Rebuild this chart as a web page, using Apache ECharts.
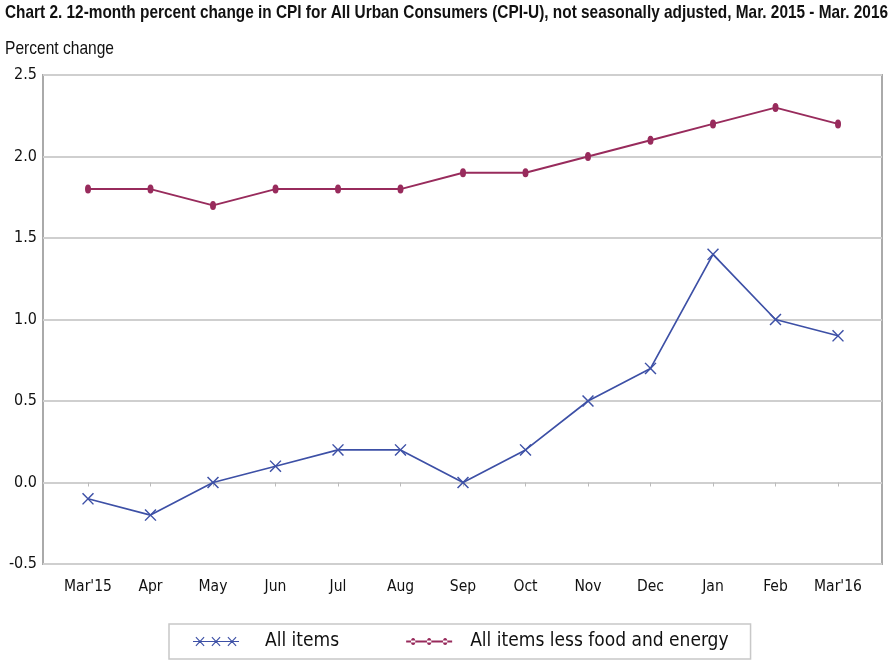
<!DOCTYPE html>
<html>
<head>
<meta charset="utf-8">
<script src="https://cdn.jsdelivr.net/npm/echarts@6/dist/echarts.min.js"></script>
<style>
html,body{margin:0;padding:0;background:#fff;}
#chart{width:892px;height:669px;}
</style>
</head>
<body>
<div id="chart"></div>
<script>
const categories = ["Mar'15","Apr","May","Jun","Jul","Aug","Sep","Oct","Nov","Dec","Jan","Feb","Mar'16"];
const allItems = [-0.1,-0.2,0.0,0.1,0.2,0.2,0.0,0.2,0.5,0.7,1.4,1.0,0.9];
const coreItems = [1.8,1.8,1.7,1.8,1.8,1.8,1.9,1.9,2.0,2.1,2.2,2.3,2.2];
const yTicks = {min:-0.5, max:2.5, interval:0.5};
const titleText = 'Chart 2. 12-month percent change in CPI for All Urban Consumers (CPI-U), not seasonally adjusted, Mar. 2015 - Mar. 2016';
const yName = 'Percent change';

const BLUE = '#3d50a6';
const MAROON = '#982b5c';
const FONT = "'DejaVu Sans Condensed','Liberation Sans',sans-serif";

function textWidth(t, font){
  const c = document.createElement('canvas').getContext('2d');
  c.font = font;
  return c.measureText(t).width;
}
const titleScale = 883 / textWidth(titleText, "bold 19px 'Liberation Sans'");
const nameScale = 109 / textWidth(yName, "19px 'Liberation Sans'");

function xPath(cx){
  return `M${cx-4.5} 1 L${cx-3.7} 0.3 L${cx+4.5} 9 L${cx+3.7} 9.7 Z M${cx+3.7} 0.3 L${cx+4.5} 1 L${cx-3.7} 9.7 L${cx-4.5} 9 Z`;
}
function ovalPath(cx){
  return `M${cx-2.2} 5 A2.2 3.6 0 1 0 ${cx+2.2} 5 A2.2 3.6 0 1 0 ${cx-2.2} 5 Z`;
}
const blueIcon = 'path://M0 4.4 L46 4.4 L46 5.6 L0 5.6 Z ' + xPath(7) + ' ' + xPath(23) + ' ' + xPath(39);
const maroonIcon = 'path://M0 4.1 L46 4.1 L46 5.9 L0 5.9 Z ' + ovalPath(7) + ' ' + ovalPath(23) + ' ' + ovalPath(39);

const chart = echarts.init(document.getElementById('chart'), null, {renderer:'canvas'});
chart.setOption({
  backgroundColor:'#fff',
  animation:false,
  textStyle:{fontFamily:FONT},
  graphic:[
    {type:'text', x:5, y:3, scaleX:titleScale, scaleY:1,
     style:{text:titleText, font:"bold 19px 'Liberation Sans'", fill:'#111', verticalAlign:'top'}},
    {type:'text', x:5, y:39, scaleX:nameScale, scaleY:1,
     style:{text:yName, font:"19px 'Liberation Sans'", fill:'#111', verticalAlign:'top'}}
  ],
  grid:[
    {left:43, right:10, top:75, bottom:105, show:true, borderColor:'#aaa', borderWidth:2, containLabel:false},
    {left:88, right:54, top:75, bottom:105, containLabel:false}
  ],
  xAxis:[
    {type:'category', gridIndex:0, data:categories, show:false},
    {type:'category', gridIndex:1, data:categories, boundaryGap:false,
     axisLine:{show:false},
     axisTick:{show:true, length:4, lineStyle:{color:'#bbb', width:1}},
     axisLabel:{color:'#111', fontSize:15.5, fontFamily:FONT, margin:15, interval:0}}
  ],
  yAxis:[
    {type:'value', gridIndex:0, min:yTicks.min, max:yTicks.max, interval:yTicks.interval,
     axisLine:{show:false}, axisTick:{show:false},
     axisLabel:{color:'#111', fontSize:16, fontFamily:FONT, margin:6, formatter:v=>v.toFixed(1)},
     splitLine:{lineStyle:{color:'#cfcfcf', width:2}}},
    {type:'value', gridIndex:1, min:yTicks.min, max:yTicks.max, interval:yTicks.interval, show:false, splitLine:{show:false}}
  ],
  legend:{
    left:169, top:624,
    padding:[8,22,8,24],
    borderColor:'#c8c8c8', borderWidth:1.5, borderRadius:0,
    itemWidth:46, itemHeight:10, itemGap:67,
    textStyle:{fontFamily:FONT, fontSize:19, color:'#111'},
    data:[
      {name:'All items', icon:blueIcon, textStyle:{padding:[0,0,0,21]}},
      {name:'All items less food and energy', icon:maroonIcon, textStyle:{padding:[0,0,0,13]}}
    ]
  },
  series:[
    {name:'All items', type:'line', xAxisIndex:1, yAxisIndex:1, data:allItems,
     symbol:'path://' + xPath(5), symbolSize:[12,12], symbolKeepAspect:false,
     lineStyle:{color:BLUE, width:1.7}, itemStyle:{color:BLUE}},
    {name:'All items less food and energy', type:'line', xAxisIndex:1, yAxisIndex:1, data:coreItems,
     symbol:'path://' + ovalPath(3), symbolSize:[6,9], symbolKeepAspect:false,
     lineStyle:{color:MAROON, width:2}, itemStyle:{color:MAROON}}
  ]
});
</script>
</body>
</html>
